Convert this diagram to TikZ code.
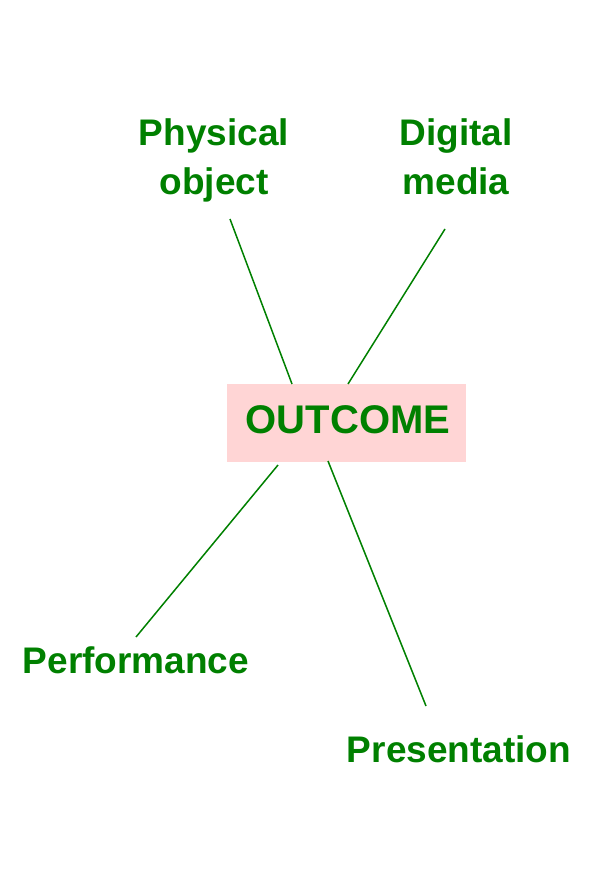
\documentclass[tikz,border=0pt]{standalone}
\usepackage{fontspec}
\setmainfont{Liberation Sans}
\definecolor{lgreen}{HTML}{008000}
\definecolor{lpink}{HTML}{FFD5D5}
\begin{document}
\begin{tikzpicture}[x=1pt,y=-1pt,
  lab/.style={text=lgreen,font=\fontsize{37}{49}\selectfont\bfseries,inner sep=0pt,align=center},
  link/.style={draw=lgreen,line width=1.5pt}]
\useasboundingbox (0,0) rectangle (607,882);
\node[fill=lpink,minimum width=239pt,minimum height=78pt,inner sep=0pt] (out) at (346.5,423) {};
\node[text=lgreen,font=\fontsize{40}{48}\selectfont\bfseries,inner sep=0pt,anchor=base] (outtxt) at (348,433) {OUTCOME};
\node[lab,anchor=base] (phys) at (214,146) {Physical};
\node[lab,anchor=base] (phys2) at (214,195) {object};
\node[lab,anchor=base] (dig) at (456,146) {Digital};
\node[lab,anchor=base] (dig2) at (456,195) {media};
\node[lab,anchor=base] (perf) at (136,673) {Performance};
\node[lab,anchor=base] (pres) at (459,762) {Presentation};
\coordinate (a1) at (230,219);
\coordinate (a2) at (292,384);
\coordinate (b1) at (445,229);
\coordinate (b2) at (348,384);
\coordinate (c1) at (136,637);
\coordinate (c2) at (278,465);
\coordinate (d1) at (426,706);
\coordinate (d2) at (328,461);
\draw[link] (a1) -- (a2);
\draw[link] (b1) -- (b2);
\draw[link] (c1) -- (c2);
\draw[link] (d1) -- (d2);
\end{tikzpicture}
\end{document}
